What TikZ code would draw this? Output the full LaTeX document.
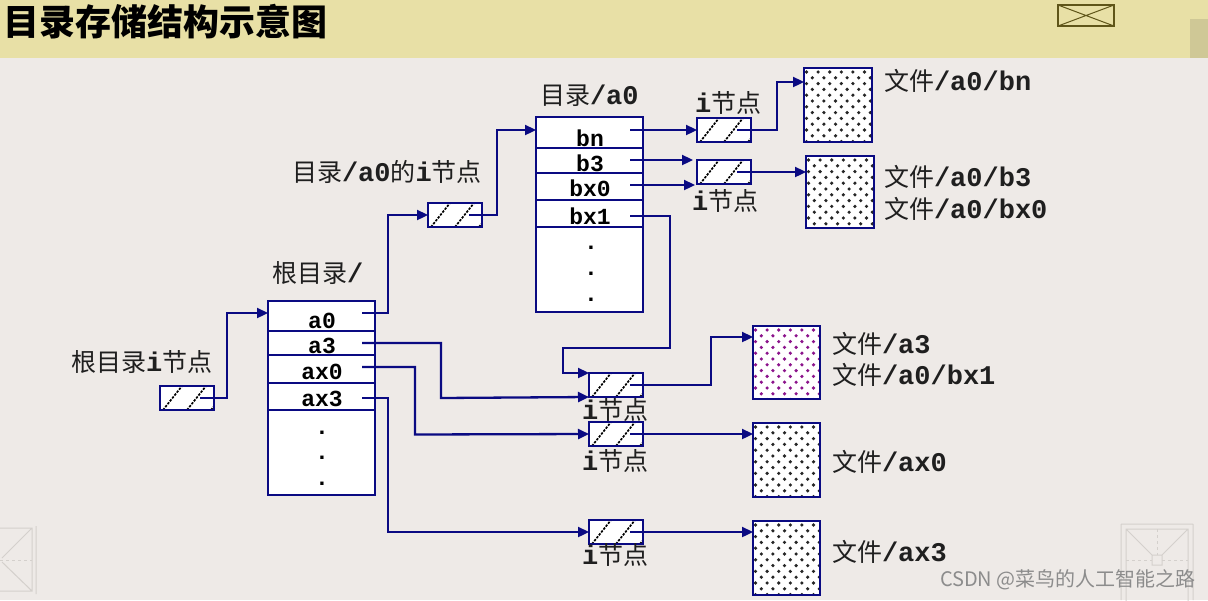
\documentclass[tikz,border=0pt]{standalone}
\usepackage{fontspec}
\setmainfont{Noto Sans CJK SC}
\newfontfamily\monob[Scale=1.08]{Liberation Mono}
\newfontfamily\monot{Liberation Mono}
\usetikzlibrary{arrows.meta}
\definecolor{bg}{RGB}{238,234,231}
\definecolor{titlebg}{RGB}{232,224,166}
\definecolor{scrollc}{RGB}{207,200,150}
\definecolor{iconc}{RGB}{95,85,25}
\definecolor{ln}{RGB}{10,10,130}
\definecolor{pdot}{RGB}{140,20,140}
\definecolor{deco}{RGB}{212,208,204}
\newcommand\asc[1]{{\monob\bfseries #1}}
\begin{document}
\begin{tikzpicture}[x=1pt,y=-1pt,
  every node/.style={inner sep=0pt,outer sep=0pt},
  lbl/.style={font=\fontsize{25}{30}\selectfont,text=black!88,anchor=west},
  ent/.style={font=\monot\bfseries\fontsize{23}{26}\selectfont},
  dotc/.style={font=\monot\bfseries\fontsize{23}{26}\selectfont,anchor=base},
  cell/.style={draw=ln,line width=2.4pt,fill=white,minimum width=107pt,anchor=north west},
  inode/.style={draw=ln,line width=2.4pt,fill=white,minimum width=54pt,minimum height=24pt,anchor=north west,
    path picture={\foreach \k in {3,27,51}{\draw[black,line width=1.7pt,dash pattern=on 2.4pt off 1.3pt]
      ([xshift=\k pt]path picture bounding box.south west) -- ++(19pt,24pt);}}},
  fbox/.style={draw=ln,line width=2.4pt,fill=white,anchor=north west,
    path picture={\foreach \j in {0,...,13}{\foreach \i in {0,...,6}{
      \pgfmathsetmacro\xx{\i*11.6+2.5+mod(\j,2)*5.8}\pgfmathsetmacro\yy{\j*5.8+4}
      \fill[#1] ([shift={(\xx pt,-\yy pt)}]path picture bounding box.north west) circle (1.8pt);}}}},
  fbox/.default=black!85,
  ptr/.style={draw=ln,line width=2.3pt,-{Triangle[length=11pt,width=10pt]}}
]
\useasboundingbox (0,0) rectangle (1208,600);
\fill[bg] (0,0) rectangle (1208,600);
% title bar
\fill[titlebg] (0,0) rectangle (1208,58);
\fill[scrollc] (1190,19) rectangle (1208,58);
\node[anchor=west,font=\bfseries\fontsize{36}{40}\selectfont] (title) at (4,22) {目录存储结构示意图};
\node[draw=iconc,line width=1.8pt,minimum width=56pt,minimum height=21pt,anchor=north west] (icon) at (1058,5) {};
\draw[iconc,line width=1pt] (icon.north west) -- (icon.south east) (icon.south west) -- (icon.north east);
% corner decorations
\draw[deco,line width=1pt] (-5,528) rectangle (32,591) (32,528) -- (2,558) (2,562) -- (32,591) (36,526) -- (36,594);
\draw[deco,line width=0.7pt,dashed] (0,560) -- (32,560);
\draw[deco,line width=1pt] (1126,529) rectangle (1188,605) (1126,529) -- (1152,555) (1188,529) -- (1162,555)
  (1152,555) rectangle (1162,565) (1121,524) -- (1121,600) (1193,524) -- (1193,600) (1121,524) -- (1193,524);
\draw[deco,line width=0.7pt,dashed] (1157,529) -- (1157,555) (1126,560) -- (1152,560) (1162,560) -- (1188,560);
% root i-node
\node[inode] (ri) at (160,386) {};
\node[lbl] (lri) at (71,362) {根目录\asc{i}节点};
% root directory
\node[lbl] (lroot) at (272,273) {根目录\asc{/}};
\node[cell,minimum height=30pt] (ra0) at (268,301) {};
\node[cell,minimum height=24pt] (ra3) at (268,331) {};
\node[cell,minimum height=28pt] (rax0) at (268,355) {};
\node[cell,minimum height=27pt] (rax3) at (268,383) {};
\node[cell,minimum height=85pt] (rrest) at (268,410) {};
\node[ent] (ta0) at (322,321) {a0};
\node[ent] (ta3) at (322,346) {a3};
\node[ent] (tax0) at (322,372) {ax0};
\node[ent] (tax3) at (322,399) {ax3};
\node[dotc] (rd1) at (322,434) {.};
\node[dotc] (rd2) at (322,459) {.};
\node[dotc] (rd3) at (322,485) {.};
% a0 i-node
\node[lbl] (lia0) at (292,172) {目录\asc{/a0}的\asc{i}节点};
\node[inode] (ia0) at (428,203) {};
% directory /a0
\node[lbl] (ldir) at (540,96) {目录\asc{/a0}};
\node[cell,minimum height=31pt] (dbn) at (536,117) {};
\node[cell,minimum height=25pt] (db3) at (536,148) {};
\node[cell,minimum height=27pt] (dbx0) at (536,173) {};
\node[cell,minimum height=27pt] (dbx1) at (536,200) {};
\node[cell,minimum height=85pt] (drest) at (536,227) {};
\node[ent] (tbn) at (590,138) {bn};
\node[ent] (tb3) at (590,163) {b3};
\node[ent] (tbx0) at (590,188) {bx0};
\node[ent] (tbx1) at (590,216) {bx1};
\node[dotc] (dd1) at (591,249) {.};
\node[dotc] (dd2) at (591,275) {.};
\node[dotc] (dd3) at (591,301) {.};
% file i-nodes
\node[inode] (i1) at (697,118) {};
\node[lbl] (li1) at (695,103) {\asc{i}节点};
\node[inode] (i2) at (697,160) {};
\node[lbl] (li2) at (692,201) {\asc{i}节点};
\node[inode] (i3) at (589,373) {};
\node[lbl] (li3) at (582,410) {\asc{i}节点};
\node[inode] (i4) at (589,422) {};
\node[lbl] (li4) at (582,461) {\asc{i}节点};
\node[inode] (i5) at (589,520) {};
\node[lbl] (li5) at (582,555) {\asc{i}节点};
% files
\node[fbox,minimum width=68pt,minimum height=74pt] (fbn) at (804,68) {};
\node[fbox,minimum width=68pt,minimum height=72pt] (fb3) at (806,156) {};
\node[fbox=pdot,minimum width=67pt,minimum height=73pt] (fa3) at (753,326) {};
\node[fbox,minimum width=67pt,minimum height=74pt] (fax0) at (753,423) {};
\node[fbox,minimum width=67pt,minimum height=74pt] (fax3) at (753,521) {};
\node[lbl] (lfbn) at (884,81) {文件\asc{/a0/bn}};
\node[lbl] (lfb3) at (884,177) {文件\asc{/a0/b3}};
\node[lbl] (lfbx0) at (884,209) {文件\asc{/a0/bx0}};
\node[lbl] (lfa3) at (832,344) {文件\asc{/a3}};
\node[lbl] (lfbx1) at (832,375) {文件\asc{/a0/bx1}};
\node[lbl] (lfax0) at (832,462) {文件\asc{/ax0}};
\node[lbl] (lfax3) at (832,552) {文件\asc{/ax3}};
% pointer start points
\coordinate (sri) at ([xshift=13pt]ri.center);
\coordinate (sa0) at ([shift={(-13pt,3pt)}]ra0.east);
\coordinate (sa3) at ([xshift=-13pt]ra3.east);
\coordinate (sax0) at ([shift={(-13pt,2pt)}]rax0.east);
\coordinate (sax3) at ([shift={(-13pt,-1.5pt)}]rax3.east);
\coordinate (sia0) at ([xshift=14pt]ia0.center);
\coordinate (sbn) at ([shift={(-13pt,2.5pt)}]dbn.east);
\coordinate (sb3) at ([shift={(-13pt,0.5pt)}]db3.east);
\coordinate (sbx0) at ([shift={(-13pt,1.5pt)}]dbx0.east);
\coordinate (sbx1) at ([shift={(-13pt,-2.5pt)}]dbx1.east);
\coordinate (si1) at ([xshift=13pt]i1.center);
\coordinate (si2) at ([xshift=13pt]i2.center);
\coordinate (si3) at ([xshift=14pt]i3.center);
\coordinate (si4) at ([xshift=14pt]i4.center);
\coordinate (si5) at ([xshift=14pt]i5.center);
% connectors
\draw[ptr] (sri) -| (227,313) -- (ra0.west |- 227,313);
\draw[ptr] (sa0) -| (388,215) -- (ia0.west);
\draw[ptr] (sia0) -| (497,130) -- (dbn.west |- 497,130);
\draw[ptr] (sbn) -- (sbn -| i1.west);
\draw[ptr,shorten >=4pt] (sb3) -- (sb3 -| i2.west);
\draw[ptr,shorten >=2pt] (sbx0) -- (sbx0 -| i2.west);
\draw[ptr] (sbx1) -| (670,348) -| (563,373) -- (i3.north west);
\draw[ptr] (si1) -| (777,82) -- (fbn.west |- 777,82);
\draw[ptr] (si2) -- (si2 -| fb3.west);
\draw[ptr] (sa3) -| (441,398) -- (i3.south west);
\draw[ptr] (sax0) -| (415,434.5) -- (i4.west);
\draw[ptr] (sax3) -| (388,532) -- (i5.west);
\draw[ptr] (si3) -| (711,337) -- (fa3.west |- 711,337);
\draw[ptr] (si4) -- (si4 -| fax0.west);
\draw[ptr] (si5) -- (si5 -| fax3.west);
% watermark
\node[anchor=west,font=\fontsize{20}{24}\selectfont,text=black!45] (wm) at (940,580) {CSDN @菜鸟的人工智能之路};
\end{tikzpicture}
\end{document}
